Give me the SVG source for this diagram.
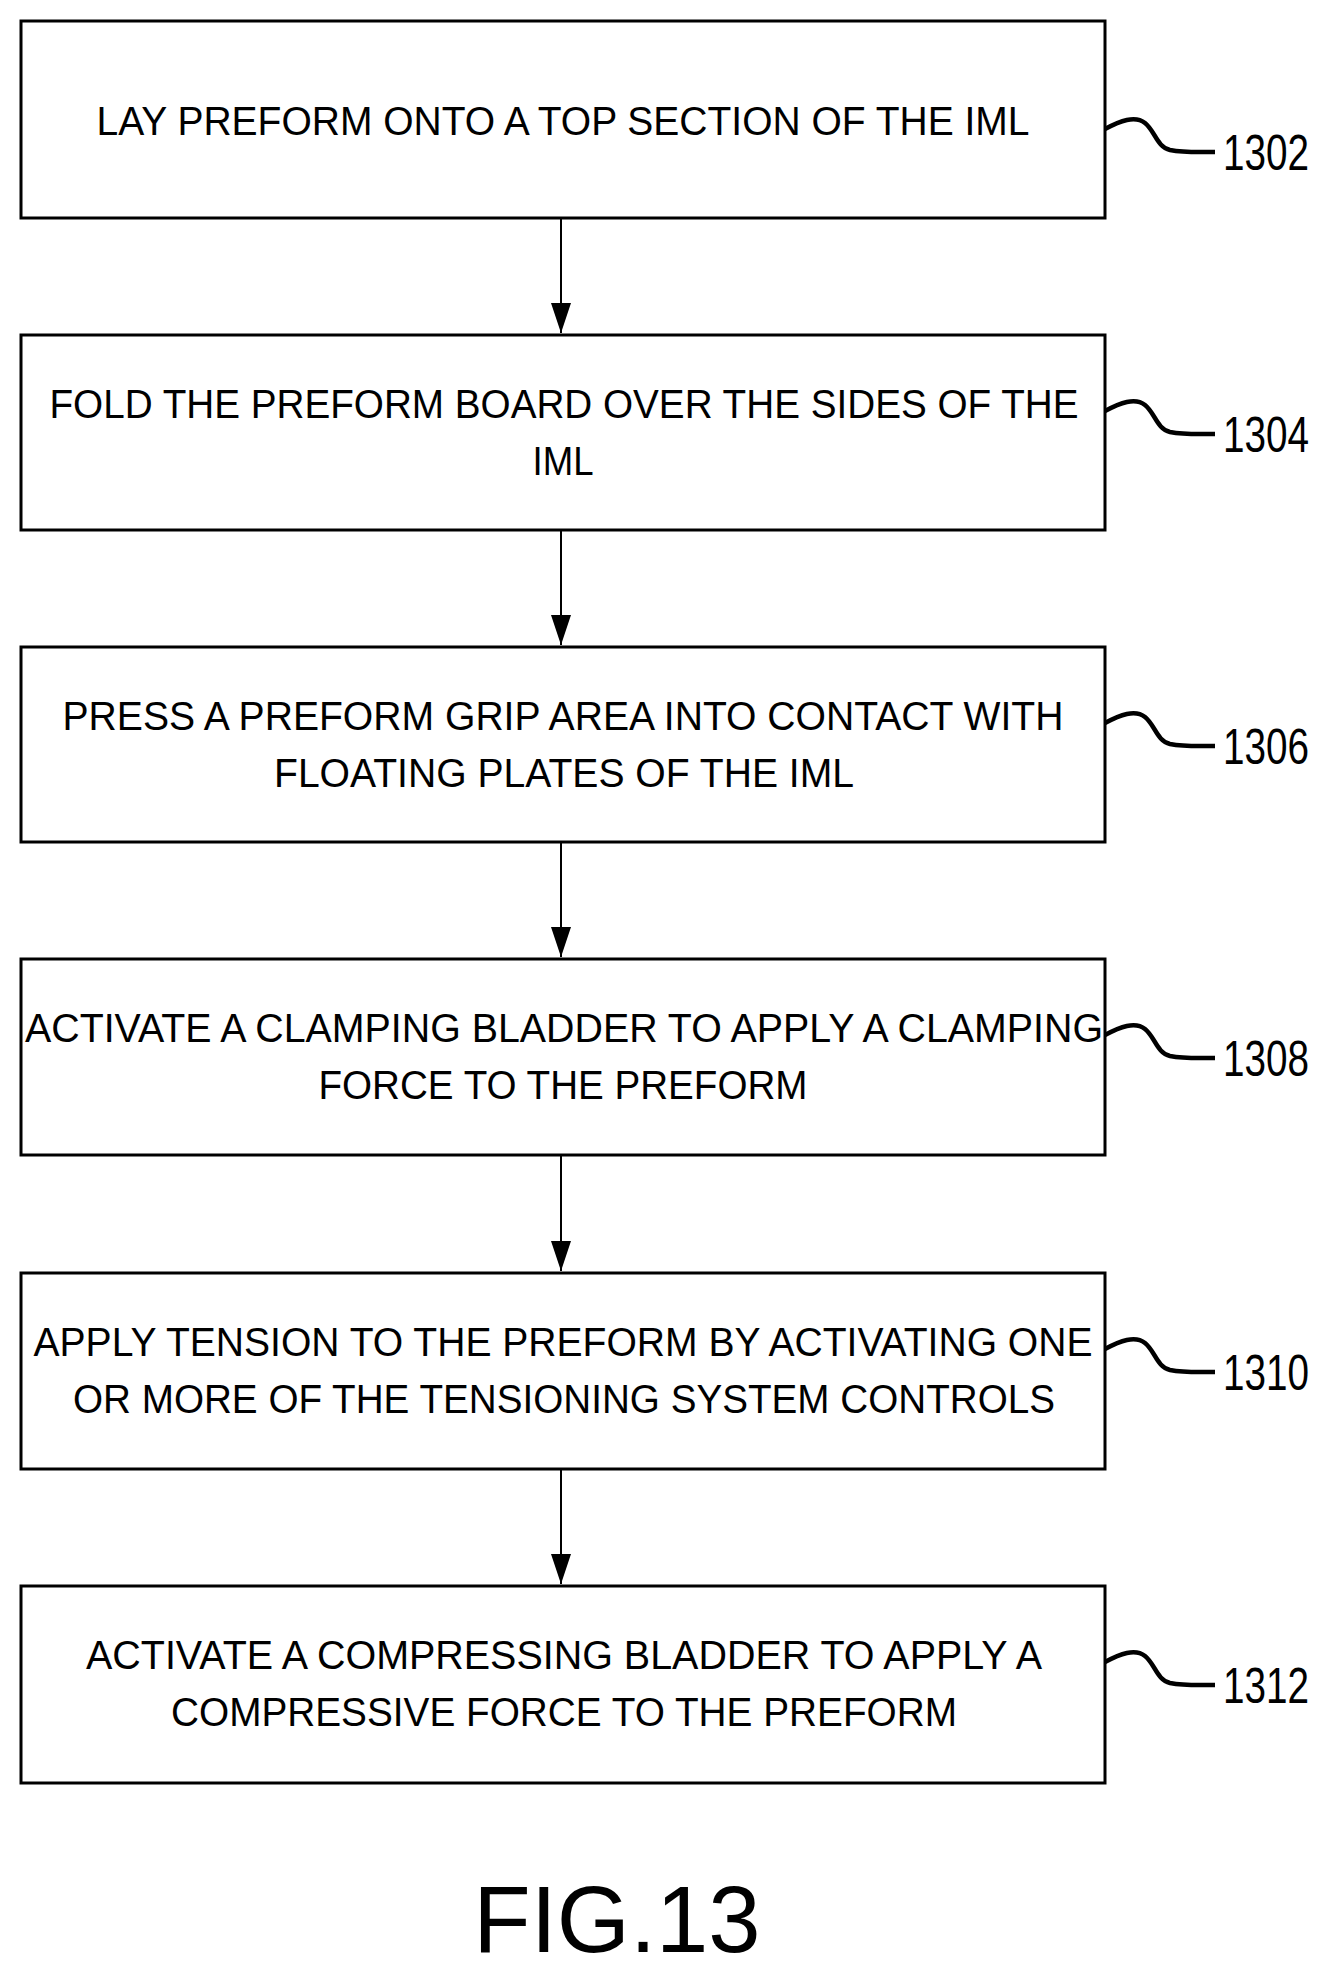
<svg xmlns="http://www.w3.org/2000/svg" width="1332" height="1971" viewBox="0 0 1332 1971">
<defs>
<style>
rect{fill:#fff;stroke:#000;stroke-width:3}
text{font-family:"Liberation Sans",Arial,sans-serif;font-size:40px;fill:#000}
.c{text-anchor:middle}
.lb{font-size:50px}
.sq{fill:none;stroke:#000;stroke-width:4.5}
.cn line{stroke:#000;stroke-width:2}
</style></defs>
<rect width="1332" height="1971" style="stroke:none"/>
<g class="cn">
<line x1="561" y1="218" x2="561" y2="333"/><path d="M551 303 L571 303 L561 333 Z"/>
<line x1="561" y1="530" x2="561" y2="645"/><path d="M551 615 L571 615 L561 645 Z"/>
<line x1="561" y1="842" x2="561" y2="957"/><path d="M551 927 L571 927 L561 957 Z"/>
<line x1="561" y1="1155" x2="561" y2="1271"/><path d="M551 1241 L571 1241 L561 1271 Z"/>
<line x1="561" y1="1469" x2="561" y2="1584"/><path d="M551 1554 L571 1554 L561 1584 Z"/>
</g>
<g id="n1302"><rect x="21" y="21" width="1084" height="197"/>
<text x="563" y="135" class="c" textLength="933" lengthAdjust="spacingAndGlyphs">LAY PREFORM ONTO A TOP SECTION OF THE IML</text>
<path class="sq" d="M1105 129 c15 -8 30 -14 40 -6 c10 8 12 24 25 27 c15 3 30 2 45 2"/>
<text x="1223" y="170" class="lb" textLength="86" lengthAdjust="spacingAndGlyphs">1302</text></g>
<g id="n1304"><rect x="21" y="335" width="1084" height="195"/>
<text x="564" y="418" class="c" textLength="1029" lengthAdjust="spacingAndGlyphs">FOLD THE PREFORM BOARD OVER THE SIDES OF THE</text>
<text x="563" y="475" class="c" textLength="61" lengthAdjust="spacingAndGlyphs">IML</text>
<path class="sq" d="M1105 411 c15 -8 30 -14 40 -6 c10 8 12 24 25 27 c15 3 30 2 45 2"/>
<text x="1223" y="452" class="lb" textLength="86" lengthAdjust="spacingAndGlyphs">1304</text></g>
<g id="n1306"><rect x="21" y="647" width="1084" height="195"/>
<text x="563" y="730" class="c" textLength="1001" lengthAdjust="spacingAndGlyphs">PRESS A PREFORM GRIP AREA INTO CONTACT WITH</text>
<text x="564" y="787" class="c" textLength="580" lengthAdjust="spacingAndGlyphs">FLOATING PLATES OF THE IML</text>
<path class="sq" d="M1105 723 c15 -8 30 -14 40 -6 c10 8 12 24 25 27 c15 3 30 2 45 2"/>
<text x="1223" y="764" class="lb" textLength="86" lengthAdjust="spacingAndGlyphs">1306</text></g>
<g id="n1308"><rect x="21" y="959" width="1084" height="196"/>
<text x="564" y="1042" class="c" textLength="1078" lengthAdjust="spacingAndGlyphs">ACTIVATE A CLAMPING BLADDER TO APPLY A CLAMPING</text>
<text x="563" y="1099" class="c" textLength="489" lengthAdjust="spacingAndGlyphs">FORCE TO THE PREFORM</text>
<path class="sq" d="M1105 1035 c15 -8 30 -14 40 -6 c10 8 12 24 25 27 c15 3 30 2 45 2"/>
<text x="1223" y="1076" class="lb" textLength="86" lengthAdjust="spacingAndGlyphs">1308</text></g>
<g id="n1310"><rect x="21" y="1273" width="1084" height="196"/>
<text x="563" y="1356" class="c" textLength="1059" lengthAdjust="spacingAndGlyphs">APPLY TENSION TO THE PREFORM BY ACTIVATING ONE</text>
<text x="564" y="1413" class="c" textLength="982" lengthAdjust="spacingAndGlyphs">OR MORE OF THE TENSIONING SYSTEM CONTROLS</text>
<path class="sq" d="M1105 1349 c15 -8 30 -14 40 -6 c10 8 12 24 25 27 c15 3 30 2 45 2"/>
<text x="1223" y="1390" class="lb" textLength="86" lengthAdjust="spacingAndGlyphs">1310</text></g>
<g id="n1312"><rect x="21" y="1586" width="1084" height="197"/>
<text x="564" y="1669" class="c" textLength="956" lengthAdjust="spacingAndGlyphs">ACTIVATE A COMPRESSING BLADDER TO APPLY A</text>
<text x="564" y="1726" class="c" textLength="786" lengthAdjust="spacingAndGlyphs">COMPRESSIVE FORCE TO THE PREFORM</text>
<path class="sq" d="M1105 1662 c15 -8 30 -14 40 -6 c10 8 12 24 25 27 c15 3 30 2 45 2"/>
<text x="1223" y="1703" class="lb" textLength="86" lengthAdjust="spacingAndGlyphs">1312</text></g>
<text x="617" y="1952" class="c" style="font-size:94px">FIG.13</text>
</svg>
